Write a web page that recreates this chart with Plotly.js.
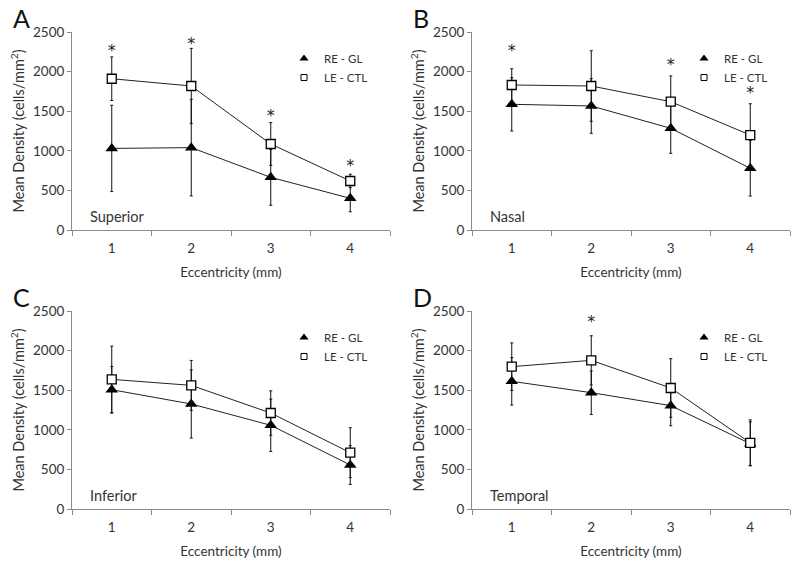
<!DOCTYPE html>
<html>
<head>
<meta charset="utf-8">
<script src="https://cdn.plot.ly/plotly-3.0.1.min.js"></script>
<style>
  body { margin: 0; background: #fff; }
  #myDiv { width: 800px; height: 565px; }
</style>
</head>
<body>
<div id="myDiv"></div>
<script>
const ecc = [1, 2, 3, 4];

// A - Superior
const supGL = [1030, 1040, 665, 400];
const supGLsd = [545, 610, 353, 170];
const supCTL = [1910, 1818, 1086, 619];
const supCTLsd = [275, 475, 270, 85];
const supStarX = [1, 2, 3, 4];
const supStarY = [2250, 2340, 1425, 800];

// B - Nasal
const nasGL = [1587, 1566, 1284, 779];
const nasGLsd = [337, 345, 316, 350];
const nasCTL = [1831, 1818, 1620, 1199];
const nasCTLsd = [205, 445, 325, 395];
const nasStarX = [1, 3, 4];
const nasStarY = [2250, 2070, 1716];

// C - Inferior
const infGL = [1506, 1326, 1057, 556];
const infGLsd = [295, 430, 330, 245];
const infCTL = [1637, 1561, 1212, 711];
const infCTLsd = [420, 315, 280, 315];
const infStarX = [];
const infStarY = [];

// D - Temporal
const temGL = [1612, 1469, 1305, 825];
const temGLsd = [300, 275, 255, 275];
const temCTL = [1797, 1877, 1528, 835];
const temCTLsd = [300, 310, 370, 290];
const temStarX = [2];
const temStarY = [2350];

const panelLetters = ['A', 'B', 'C', 'D'];
const regionNames = ['Superior', 'Nasal', 'Inferior', 'Temporal'];

const FONT = 'Lato, "Open Sans", sans-serif';
const TXT = '#333';
const AX = '#8a8a8a';

const panels = [
  {gl: supGL, glsd: supGLsd, ctl: supCTL, ctlsd: supCTLsd, sx: supStarX, sy: supStarY},
  {gl: nasGL, glsd: nasGLsd, ctl: nasCTL, ctlsd: nasCTLsd, sx: nasStarX, sy: nasStarY},
  {gl: infGL, glsd: infGLsd, ctl: infCTL, ctlsd: infCTLsd, sx: infStarX, sy: infStarY},
  {gl: temGL, glsd: temGLsd, ctl: temCTL, ctlsd: temCTLsd, sx: temStarX, sy: temStarY}
];

// plot areas in pixels (left, right, top, bottom)
const boxes = [
  [72, 390, 32, 230],
  [472, 790, 32, 230],
  [72, 390, 311, 509],
  [472, 790, 311, 509]
];

const data = [];
const layout = {
  width: 800,
  height: 565,
  margin: {l: 0, r: 0, t: 0, b: 0},
  paper_bgcolor: '#fff',
  plot_bgcolor: '#fff',
  font: {family: FONT, color: TXT, size: 12},
  annotations: []
};

const glMarker = {symbol: 'triangle-up', size: 11, color: '#000'};
const ctlMarker = {symbol: 'square', size: 9, color: '#fff', line: {color: '#000', width: 1.3}};

panels.forEach((p, i) => {
  const n = i + 1;
  const xa = 'x' + (n === 1 ? '' : n);
  const ya = 'y' + (n === 1 ? '' : n);
  const lg = 'legend' + (n === 1 ? '' : n);
  const [l, r, t, b] = boxes[i];

  const errStyle = (arr) => ({
    type: 'data', array: arr, visible: true,
    color: '#111', thickness: 1, width: 1.5
  });

  data.push({
    x: ecc, y: p.gl, xaxis: xa, yaxis: ya, showlegend: false,
    name: 'RE - GL', type: 'scatter', mode: 'lines+markers',
    line: {color: '#222', width: 1},
    marker: glMarker,
    error_y: errStyle(p.glsd)
  });
  data.push({
    x: ecc, y: p.ctl, xaxis: xa, yaxis: ya, showlegend: false,
    name: 'LE - CTL', type: 'scatter', mode: 'lines+markers',
    line: {color: '#222', width: 1},
    marker: ctlMarker,
    error_y: errStyle(p.ctlsd)
  });
  // legend entries (small symbols only, as in the figure)
  data.push({
    x: [null], y: [null], xaxis: xa, yaxis: ya, legend: lg,
    name: 'RE - GL', type: 'scatter', mode: 'markers',
    marker: {symbol: 'triangle-up', size: 8, color: '#000'}
  });
  data.push({
    x: [null], y: [null], xaxis: xa, yaxis: ya, legend: lg,
    name: 'LE - CTL', type: 'scatter', mode: 'markers',
    marker: {symbol: 'square', size: 6, color: '#fff', line: {color: '#000', width: 1}}
  });
  data.push({
    x: p.sx, y: p.sy, xaxis: xa, yaxis: ya,
    type: 'scatter', mode: 'text', text: p.sx.map(() => '*'),
    textposition: 'middle center', showlegend: false,
    textfont: {size: 16, color: '#222', family: '"DejaVu Sans", sans-serif'}, hoverinfo: 'skip'
  });

  layout['xaxis' + (n === 1 ? '' : n)] = {
    anchor: ya,
    domain: [l / 800, r / 800],
    range: [0.5, 4.5],
    tickmode: 'array', tickvals: ecc, ticktext: ecc.map(String),
    ticks: 'outside', ticklen: 6, tickcolor: 'rgba(0,0,0,0)',
    minor: {ticks: 'outside', tick0: 0.5, dtick: 1, ticklen: 5, tickcolor: AX, tickwidth: 1},
    showline: true, linecolor: AX, linewidth: 1,
    showgrid: false, zeroline: false, fixedrange: true,
    tickfont: {size: 13.5, color: TXT},
    title: {text: 'Eccentricity (mm)', font: {size: 13.5, color: TXT}, standoff: 12}
  };
  layout['yaxis' + (n === 1 ? '' : n)] = {
    anchor: xa,
    domain: [1 - b / 565, 1 - t / 565],
    range: [0, 2500], dtick: 500,
    ticks: 'outside', ticklen: 4, tickcolor: AX,
    showline: true, linecolor: AX, linewidth: 1,
    showgrid: false, zeroline: false, fixedrange: true,
    tickfont: {size: 13.5, color: TXT},
    title: {text: 'Mean Density (cells/mm<sup>2</sup>)', font: {size: 14.5, color: TXT}, standoff: 4}
  };
  layout[lg] = {
    x: (l + 212) / 800, y: 1 - (t + 12) / 565,
    xanchor: 'left', yanchor: 'top',
    bgcolor: 'rgba(0,0,0,0)', borderwidth: 0,
    itemwidth: 30, tracegroupgap: 0,
    font: {size: 11.5, color: TXT, family: FONT}
  };

  layout.annotations.push({
    xref: 'paper', yref: 'paper',
    x: (l - 61) / 800, y: 1 - (t - 14) / 565,
    xanchor: 'left', yanchor: 'middle',
    text: panelLetters[i], showarrow: false,
    font: {size: 25, color: '#111', family: FONT}
  });
  layout.annotations.push({
    xref: xa + ' domain', yref: ya + ' domain',
    x: 0.05, y: 0.066, xanchor: 'left', yanchor: 'middle',
    text: regionNames[i], showarrow: false,
    font: {size: 14.5, color: TXT, family: FONT}
  });
});

const config = {staticPlot: true};

Plotly.newPlot('myDiv', data, layout, config);
</script>
</body>
</html>
